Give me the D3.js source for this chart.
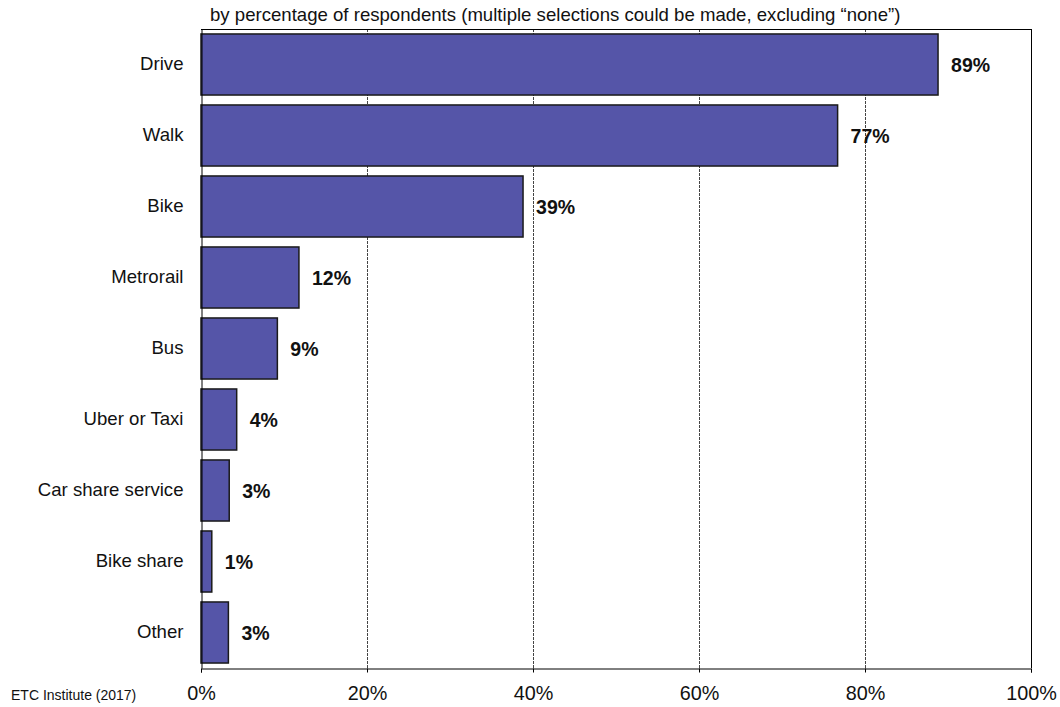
<!DOCTYPE html>
<html><head><meta charset="utf-8">
<script src="https://cdn.jsdelivr.net/npm/d3@7"></script>
<style>body{margin:0;background:#fff;} text{font-family:"Liberation Sans",Arial,sans-serif;}</style>
</head><body>
<svg id="c" width="1060" height="707"></svg>
<script>
const categories = ["Drive","Walk","Bike","Metrorail","Bus","Uber or Taxi","Car share service","Bike share","Other"];
const values = [88.8, 76.7, 38.8, 11.8, 9.2, 4.3, 3.4, 1.3, 3.3];
const valueLabels = ["89%","77%","39%","12%","9%","4%","3%","1%","3%"];
const tickValues = [0,20,40,60,80,100];
const subtitle = "by percentage of respondents (multiple selections could be made, excluding \u201cnone\u201d)";
const source = "ETC Institute (2017)";

const svg = d3.select("#c");
const L = 201, R = 1031, T = 29, B = 668;
const x = d3.scaleLinear().domain([0,100]).range([L,R]);
const y = d3.scaleBand().domain(categories).range([T,B]).paddingInner(0.14).paddingOuter(0.07);

// grid lines
svg.append("g").selectAll("line").data(tickValues.filter(d=>d>0&&d<100)).join("line")
  .attr("x1",d=>x(d)+0.5).attr("x2",d=>x(d)+0.5).attr("y1",T).attr("y2",B)
  .attr("stroke","#444").attr("stroke-width",1).attr("stroke-dasharray","3,1");

// frame top/right
svg.append("line").attr("x1",L).attr("x2",R).attr("y1",T+0.5).attr("y2",T+0.5).attr("stroke","#000");
svg.append("line").attr("x1",R+0.5).attr("x2",R+0.5).attr("y1",T).attr("y2",B).attr("stroke","#000");

// bars
svg.append("g").selectAll("rect").data(categories).join("rect")
  .attr("x",x(0)).attr("y",d=>y(d))
  .attr("width",(d,i)=>x(values[i])-x(0)).attr("height",y.bandwidth())
  .attr("fill","#5555A8").attr("stroke","#1a1a1a").attr("stroke-width",1.5);

// value labels
svg.append("g").selectAll("text").data(categories).join("text")
  .attr("x",(d,i)=>x(values[i])+13).attr("y",d=>y(d)+y.bandwidth()/2)
  .attr("dy","0.36em").attr("font-size",19.5).attr("font-weight","bold").attr("fill","#111")
  .text((d,i)=>valueLabels[i]);

// y axis
const ya = svg.append("g").attr("transform",`translate(${L+0.5},0)`)
  .call(d3.axisLeft(y).tickSize(0).tickPadding(18));
ya.select(".domain").attr("stroke","#000");
ya.selectAll("text").attr("font-size",18.6).attr("fill","#111")
  .style("font-family","'Liberation Sans',Arial,sans-serif");

// x axis
const xa = svg.append("g").attr("transform",`translate(0,${B+0.5})`)
  .call(d3.axisBottom(x).tickValues(tickValues).tickFormat(d=>d+"%").tickSize(4).tickPadding(13));
xa.select(".domain").attr("stroke","#000");
xa.selectAll("line").attr("stroke","#000");
xa.selectAll("text").attr("font-size",19.8).attr("fill","#111")
  .style("font-family","'Liberation Sans',Arial,sans-serif");

// subtitle
svg.append("text").attr("x",210).attr("y",21).attr("font-size",18.6).attr("fill","#111").text(subtitle);
// source
svg.append("text").attr("x",11).attr("y",700).attr("font-size",14).attr("fill","#111").text(source);
</script>
</body></html>
